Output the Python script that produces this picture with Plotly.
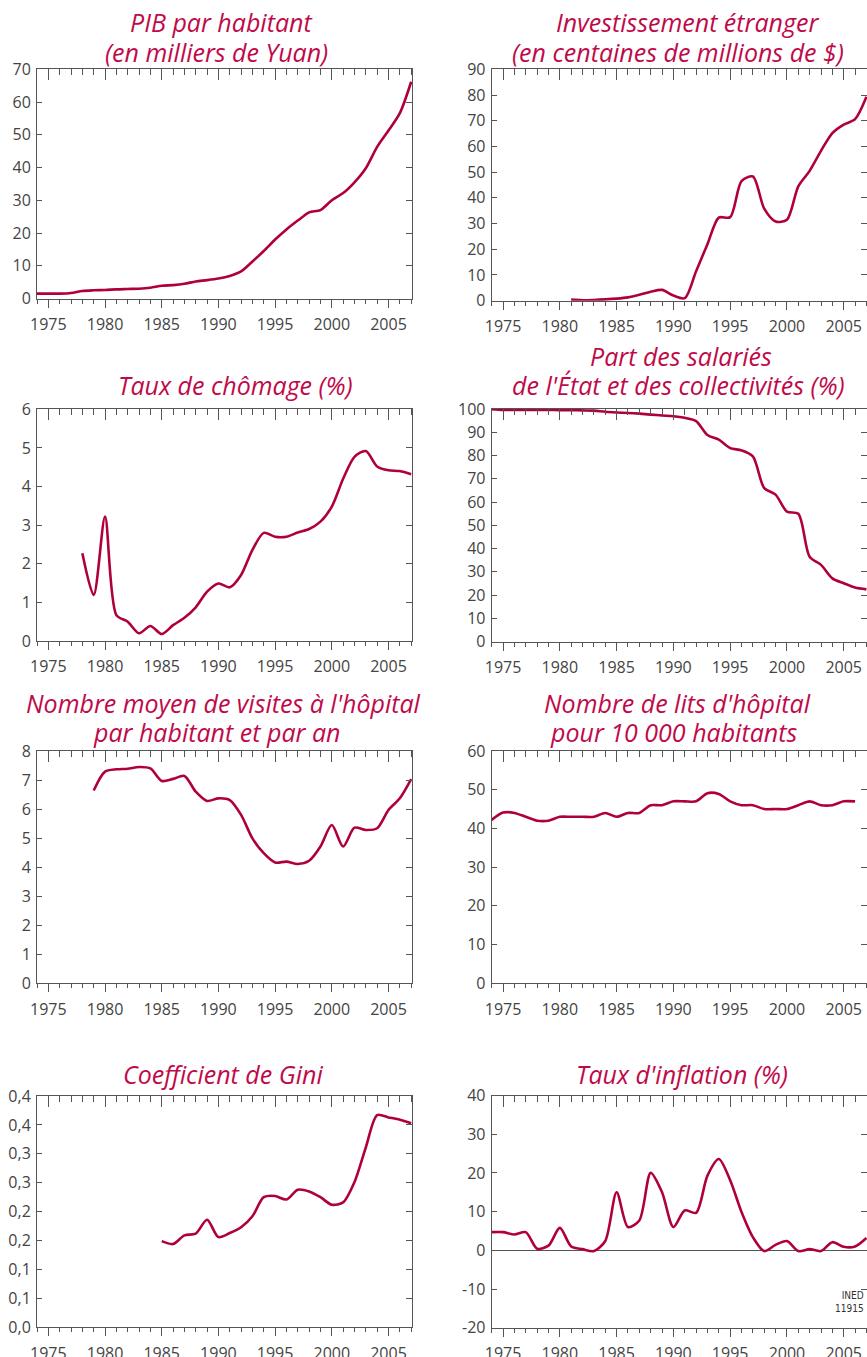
import plotly.graph_objects as go

# ---------------- data ----------------
years_pib = [1974, 1975, 1976, 1977, 1978, 1979, 1980, 1981, 1982, 1983, 1984, 1985, 1986, 1987,
             1988, 1989, 1990, 1991, 1992, 1993, 1994, 1995, 1996, 1997, 1998, 1999, 2000, 2001,
             2002, 2003, 2004, 2005, 2006, 2007]
pib = [1.5, 1.5, 1.5, 1.7, 2.3, 2.5, 2.6, 2.8, 2.9, 3.0, 3.3, 3.9, 4.1, 4.5,
       5.2, 5.6, 6.1, 6.9, 8.3, 11.3, 14.5, 18.0, 21.1, 23.8, 26.3, 27.0, 30.0, 32.2,
       35.5, 39.8, 46.3, 51.3, 56.6, 66.2]

years_inv = [1981, 1982, 1983, 1984, 1985, 1986, 1987, 1988, 1989, 1990, 1991, 1992, 1993, 1994,
             1995, 1996, 1997, 1998, 1999, 2000, 2001, 2002, 2003, 2004, 2005, 2006, 2007]
inv = [0.4, 0.2, 0.3, 0.5, 0.8, 1.3, 2.3, 3.5, 4.2, 2.0, 1.0, 11.5, 22.0, 32.3,
       32.5, 46.5, 48.3, 35.8, 30.8, 31.5, 44.5, 50.5, 58.3, 65.2, 68.5, 70.6, 79.3]

years_cho = [1978, 1979, 1980, 1981, 1982, 1983, 1984, 1985, 1986, 1987, 1988, 1989, 1990, 1991,
             1992, 1993, 1994, 1995, 1996, 1997, 1998, 1999, 2000, 2001, 2002, 2003, 2004, 2005,
             2006, 2007]
chomage = [2.27, 1.19, 3.22, 0.67, 0.5, 0.2, 0.39, 0.18, 0.41, 0.6, 0.87, 1.28, 1.49, 1.39,
           1.71, 2.36, 2.8, 2.7, 2.7, 2.81, 2.9, 3.09, 3.48, 4.2, 4.77, 4.92, 4.52, 4.42,
           4.4, 4.32]

years_sal = [1974, 1975, 1976, 1977, 1978, 1979, 1980, 1981, 1982, 1983, 1984, 1985, 1986, 1987,
             1988, 1989, 1990, 1991, 1992, 1993, 1994, 1995, 1996, 1997, 1998, 1999, 2000, 2001,
             2002, 2003, 2004, 2005, 2006, 2007]
salaries = [99.9, 99.6, 99.6, 99.6, 99.6, 99.6, 99.5, 99.5, 99.4, 99.3, 98.8, 98.5, 98.3, 98.0,
            97.6, 97.2, 96.9, 96.2, 94.8, 88.8, 86.8, 83.2, 82.2, 79.6, 66.0, 63.2, 55.9, 55.0,
            36.5, 33.0, 27.2, 25.1, 23.3, 22.5]

years_vis = [1979, 1980, 1981, 1982, 1983, 1984, 1985, 1986, 1987, 1988, 1989, 1990, 1991, 1992,
             1993, 1994, 1995, 1996, 1997, 1998, 1999, 2000, 2001, 2002, 2003, 2004, 2005, 2006,
             2007]
visites = [6.64, 7.29, 7.37, 7.39, 7.45, 7.4, 6.97, 7.04, 7.14, 6.6, 6.28, 6.37, 6.31, 5.8,
           4.99, 4.48, 4.16, 4.19, 4.11, 4.22, 4.71, 5.45, 4.71, 5.36, 5.28, 5.34, 5.97, 6.37,
           7.03]

years_lit = [1974, 1975, 1976, 1977, 1978, 1979, 1980, 1981, 1982, 1983, 1984, 1985, 1986, 1987,
             1988, 1989, 1990, 1991, 1992, 1993, 1994, 1995, 1996, 1997, 1998, 1999, 2000, 2001,
             2002, 2003, 2004, 2005, 2006]
lits = [42.2, 44.1, 44.0, 43.0, 42.0, 42.0, 43.0, 43.0, 43.0, 43.0, 44.0, 43.0, 44.0, 44.0,
        46.0, 46.0, 47.0, 47.0, 47.0, 49.1, 48.9, 47.0, 46.0, 46.0, 45.0, 45.0, 45.0, 46.0,
        47.0, 46.0, 46.0, 47.0, 47.0]

years_gini = [1985, 1986, 1987, 1988, 1989, 1990, 1991, 1992, 1993, 1994, 1995, 1996, 1997, 1998,
              1999, 2000, 2001, 2002, 2003, 2004, 2005, 2006, 2007]
gini = [0.149, 0.144, 0.159, 0.162, 0.186, 0.156, 0.163, 0.173, 0.192, 0.225, 0.227, 0.221, 0.238, 0.235,
        0.225, 0.212, 0.216, 0.251, 0.311, 0.367, 0.363, 0.359, 0.353]
gini_tickvals = [0.0, 0.05, 0.1, 0.15, 0.2, 0.25, 0.3, 0.35, 0.4]
gini_ticktext = ["0,0", "0,1", "0,1", "0,2", "0,2", "0,3", "0,3", "0,4", "0,4"]

years_inf = [1974, 1975, 1976, 1977, 1978, 1979, 1980, 1981, 1982, 1983, 1984, 1985, 1986, 1987,
             1988, 1989, 1990, 1991, 1992, 1993, 1994, 1995, 1996, 1997, 1998, 1999, 2000, 2001,
             2002, 2003, 2004, 2005, 2006, 2007]
inflation = [4.7, 4.7, 4.1, 4.7, 0.4, 1.2, 5.8, 1.0, 0.3, -0.2, 2.4, 15.0, 6.0, 7.7,
             20.0, 15.0, 6.0, 10.3, 9.7, 19.3, 23.6, 18.1, 9.9, 3.4, -0.2, 1.4, 2.4, -0.2,
             0.3, -0.2, 2.1, 0.9, 1.0, 3.2]
inf_tickvals = [-20, -10, 0, 10, 20, 30, 40]
inf_ticktext = ["-20", "-10", "0", "10", "20", "30", "40"]

# ---------------- style ----------------
W, H = 867, 1357
OFF = 0  # body margin removed by post_script below
LINE = "#B0003C"
TITLE = "#BF0A4A"
AX = "#555555"
TXT = "#444444"
FONT = "Open Sans"

L = (37, 412.3)
R = (491.7, 868)

panels = [
    dict(x=years_pib, y=pib, xd=L, yd=(69.3, 298.5), yr=[0, 70], dt=10,
         title=[("PIB par habitant", 221, 22), ("(en milliers de Yuan)", 216, 52)]),
    dict(x=years_inv, y=inv, xd=R, yd=(69.3, 300.7), yr=[0, 90], dt=10,
         title=[("Investissement étranger", 687, 22), ("(en centaines de millions de $)", 678, 52)]),
    dict(x=years_cho, y=chomage, xd=L, yd=(409.3, 641), yr=[0, 6], dt=1,
         title=[("Taux de chômage (%)", 235, 385)]),
    dict(x=years_sal, y=salaries, xd=R, yd=(409, 641.7), yr=[0, 100], dt=10,
         title=[("Part des salariés", 681, 356), ("de l'État et des collectivités (%)", 678, 385)]),
    dict(x=years_vis, y=visites, xd=L, yd=(751, 983.3), yr=[0, 8], dt=1,
         title=[("Nombre moyen de visites à l'hôpital", 224, 703), ("par habitant et par an", 216, 732)]),
    dict(x=years_lit, y=lits, xd=R, yd=(751, 983.3), yr=[0, 60], dt=10,
         title=[("Nombre de lits d'hôpital", 677, 703), ("pour 10 000 habitants", 673, 732)]),
    dict(x=years_gini, y=gini, xd=L, yd=(1096, 1327.3), yr=[0, 0.4], dt=None,
         tv=gini_tickvals, tt=gini_ticktext,
         title=[("Coefficient de Gini", 223, 1074)]),
    dict(x=years_inf, y=inflation, xd=R, yd=(1095.5, 1327.7), yr=[-20, 40], dt=None,
         tv=inf_tickvals, tt=inf_ticktext, zero=True,
         title=[("Taux d'inflation (%)", 682, 1074)]),
]

fig = go.Figure()
layout = {}
annotations = []


def px(xp):
    return (xp - OFF) / W


def py(yp):
    return 1 - (yp - OFF) / H


for i, p in enumerate(panels):
    n = i + 1
    m = i + 9
    xid = "x" if n == 1 else f"x{n}"
    yid = "y" if n == 1 else f"y{n}"
    xk = "xaxis" if n == 1 else f"xaxis{n}"
    yk = "yaxis" if n == 1 else f"yaxis{n}"
    xr = [1974, 2007.1] if p["xd"] == L else [1974, 2007.05]
    xdom = [max(0, px(p["xd"][0])), min(1, px(p["xd"][1]))]
    ydom = [py(p["yd"][1]), py(p["yd"][0])]

    fig.add_trace(go.Scatter(
        x=p["x"], y=p["y"], xaxis=xid, yaxis=yid, mode="lines",
        line=dict(color=LINE, width=2.6, shape="spline", smoothing=0.8),
        showlegend=False, hoverinfo="skip"))

    layout[xk] = dict(
        domain=xdom, anchor=yid, range=xr, showgrid=False, zeroline=False, automargin=False,
        showline=True, linecolor=AX, linewidth=1,
        ticks="outside", ticklen=8, tickwidth=1, tickcolor=AX,
        tick0=1975, dtick=5, ticklabelstandoff=3,
        tickfont=dict(family=FONT, size=16, color=TXT),
        minor=dict(ticks="outside", ticklen=4, tickwidth=1, tickcolor=AX, dtick=1, tick0=1974, showgrid=False),
        fixedrange=True)
    if p["dt"]:
        ytick = dict(tick0=0, dtick=p["dt"])
        rtick = dict(tick0=0, dtick=p["dt"])
    else:
        ytick = dict(tickmode="array", tickvals=p["tv"], ticktext=p["tt"])
        rtick = dict(tickmode="array", tickvals=p["tv"])
    layout[yk] = dict(
        domain=ydom, anchor=xid, range=p["yr"], showgrid=False, automargin=False,
        zeroline=bool(p.get("zero")), zerolinecolor=AX, zerolinewidth=1,
        showline=True, linecolor=AX, linewidth=1,
        ticks="inside", ticklen=5, tickwidth=1, tickcolor=AX, ticklabelstandoff=2,
        tickfont=dict(family=FONT, size=16, color=TXT), fixedrange=True, **ytick)
    # top axis with inward ticks
    layout[f"xaxis{m}"] = dict(
        domain=xdom, overlaying=xid, anchor=yid, side="top", range=xr, showgrid=False,
        zeroline=False, showline=True, linecolor=AX, linewidth=1, showticklabels=False,
        automargin=False,
        ticks="inside", ticklen=11, tickwidth=1, tickcolor=AX, tick0=1975, dtick=5,
        minor=dict(ticks="inside", ticklen=6, tickwidth=1, tickcolor=AX, dtick=1, tick0=1974, showgrid=False),
        fixedrange=True)
    # right axis with inward ticks
    layout[f"yaxis{m}"] = dict(
        domain=ydom, overlaying=yid, anchor=xid, side="right", range=p["yr"], showgrid=False,
        zeroline=False, showline=True, linecolor=AX, linewidth=1, showticklabels=False,
        automargin=False,
        ticks="inside", ticklen=6, tickwidth=1, tickcolor=AX, fixedrange=True, **rtick)
    # invisible trace so the overlay subplots are drawn
    fig.add_trace(go.Scatter(x=[xr[0]], y=[p["yr"][0]], xaxis=f"x{m}", yaxis=f"y{m}",
                             mode="markers", marker=dict(opacity=0), showlegend=False,
                             hoverinfo="skip"))

    for text, tx, ty in p["title"]:
        annotations.append(dict(
            text=text, x=px(tx), y=py(ty), xref="paper", yref="paper",
            xanchor="center", yanchor="middle", showarrow=False,
            font=dict(family=FONT, size=25, color=TITLE, style="italic")))

annotations.append(dict(
    text="INED<br>11915", x=px(866), y=py(1302), xref="paper", yref="paper",
    xanchor="right", yanchor="middle", showarrow=False, align="right",
    font=dict(family="Liberation Sans Narrow, DejaVu Sans Condensed, sans-serif", size=10, color="#333333")))

fig.update_layout(
    width=W, height=H, margin=dict(l=0, r=0, t=0, b=0, pad=0),
    paper_bgcolor="white", plot_bgcolor="white", hovermode=False,
    annotations=annotations, **layout)

fig.write_html("out.html",
               config={"displayModeBar": False, "staticPlot": True},
               post_script="document.body.style.margin='0px';document.body.style.overflow='hidden';")
